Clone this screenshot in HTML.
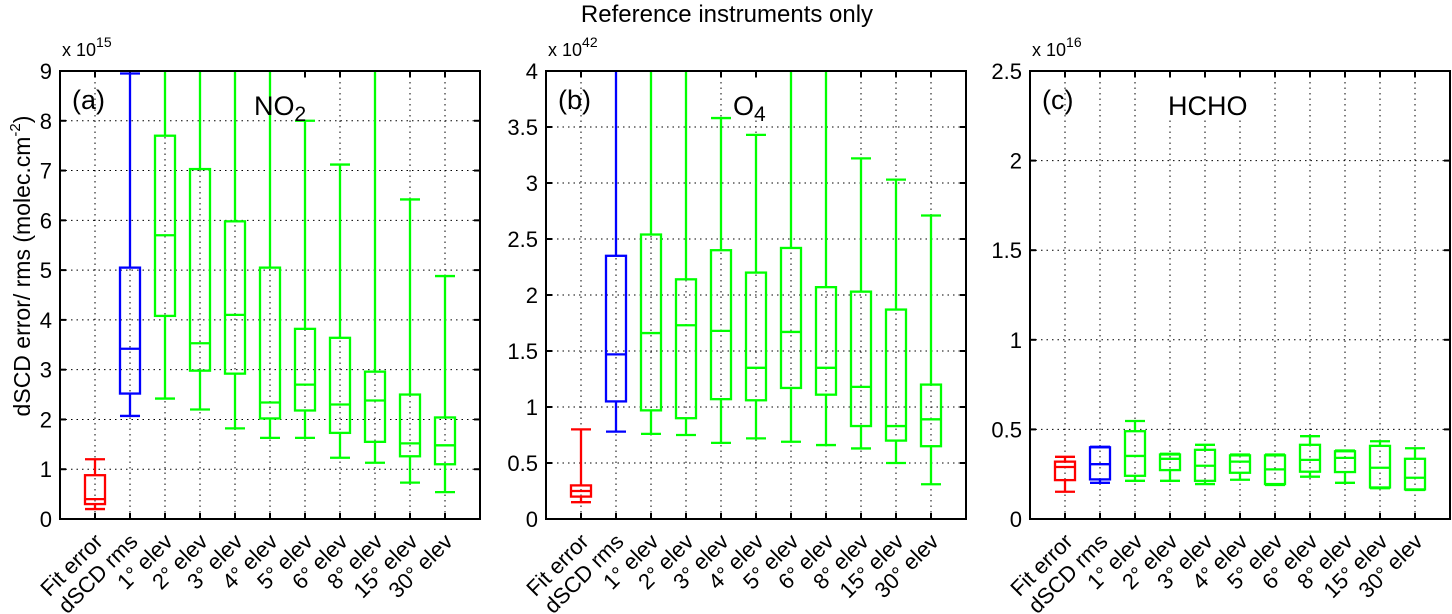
<!DOCTYPE html>
<html><head><meta charset="utf-8"><style>
body{margin:0;background:#fff;}
svg{display:block;font-family:"Liberation Sans",Arial,sans-serif;}
</style></head><body>
<svg id="fig" width="1452" height="614" viewBox="0 0 1452 614">
<text x="727" y="22" font-size="24" text-anchor="middle">Reference instruments only</text>
<text transform="translate(30,266) rotate(-90)" font-size="23" text-anchor="middle">dSCD error/ rms (molec.cm<tspan dy="-10" font-size="15">-2</tspan><tspan dy="10">)</tspan></text>
</svg>
<script>
const categories=["Fit error","dSCD rms","1° elev","2° elev","3° elev","4° elev","5° elev","6° elev","8° elev","15° elev","30° elev"];
const colors=["#ff0000","#0000ff","#00ff00","#00ff00","#00ff00","#00ff00","#00ff00","#00ff00","#00ff00","#00ff00","#00ff00"];
// [low whisker, q1, median, q3, high whisker]
const no2Stats=[[0.2,0.3,0.4,0.88,1.2],[2.07,2.52,3.42,5.05,8.95],[2.42,4.08,5.7,7.7,12],[2.2,2.98,3.53,7.03,12],[1.82,2.92,4.1,5.98,12],[1.63,2.02,2.34,5.05,12],[1.63,2.18,2.7,3.82,8.0],[1.23,1.73,2.3,3.64,7.12],[1.13,1.55,2.38,2.96,12],[0.73,1.26,1.52,2.5,6.42],[0.54,1.1,1.48,2.04,4.88]];
const o4Stats=[[0.15,0.2,0.25,0.3,0.8],[0.78,1.05,1.47,2.35,5],[0.76,0.97,1.66,2.54,5],[0.75,0.9,1.73,2.14,5],[0.68,1.07,1.68,2.4,3.58],[0.72,1.06,1.35,2.2,3.43],[0.69,1.17,1.67,2.42,5],[0.66,1.11,1.35,2.07,5],[0.63,0.83,1.18,2.03,3.22],[0.5,0.7,0.83,1.87,3.03],[0.31,0.65,0.89,1.2,2.71]];
const hchoStats=[[0.152,0.217,0.29,0.32,0.347],[0.202,0.221,0.306,0.40,0.403],[0.213,0.241,0.352,0.49,0.547],[0.213,0.273,0.336,0.36,0.364],[0.195,0.213,0.297,0.386,0.414],[0.219,0.258,0.32,0.355,0.36],[0.19,0.195,0.277,0.355,0.36],[0.236,0.264,0.33,0.414,0.462],[0.202,0.262,0.341,0.378,0.382],[0.172,0.176,0.286,0.408,0.434],[0.162,0.165,0.23,0.336,0.395]];
const no2Ticks=["0","1","2","3","4","5","6","7","8","9"];
const o4Ticks=["0","0.5","1","1.5","2","2.5","3","3.5","4"];
const hchoTicks=["0","0.5","1","1.5","2","2.5"];

const NS="http://www.w3.org/2000/svg";
const svg=document.getElementById('fig');
function mk(tag,attrs,parent){const e=document.createElementNS(NS,tag);for(const k in attrs)e.setAttribute(k,attrs[k]);(parent||svg).appendChild(e);return e;}
const TOP=71,BOT=519;
function panel(key,left,stats,ticks,ymax,exp,letter,species,sub,spx){
  const right=left+420;
  const g=mk('g',{});
  
  
  const x=i=>left+35*(i+1);
  const y=v=>BOT-(v/ymax)*(BOT-TOP);
  const clip=mk('clipPath',{id:'c'+key},g);
  mk('rect',{x:left,y:TOP,width:420,height:BOT-TOP},clip);
  ticks.forEach(t=>{const v=parseFloat(t),yy=y(v);
    if(v>0&&v<ymax){const l=mk('line',{x1:left,x2:right,y1:yy,y2:yy,stroke:'#000','stroke-width':1,'stroke-dasharray':'1.5,4'},g);
      }
    mk('line',{x1:left,x2:left+6,y1:yy,y2:yy,stroke:'#000','stroke-width':2},g);
    mk('line',{x1:right,x2:right-6,y1:yy,y2:yy,stroke:'#000','stroke-width':2},g);
    const tx=mk('text',{x:left-8,y:yy+8,'font-size':22,'text-anchor':'end'},g);tx.textContent=t;
    
  });
  categories.forEach((c,i)=>{const xx=x(i);
    mk('line',{x1:xx,x2:xx,y1:TOP,y2:BOT,stroke:'#000','stroke-width':1,'stroke-dasharray':'1.5,4'},g);
    mk('line',{x1:xx,x2:xx,y1:BOT,y2:BOT-6,stroke:'#000','stroke-width':2},g);
    mk('line',{x1:xx,x2:xx,y1:TOP,y2:TOP+6,stroke:'#000','stroke-width':2},g);
    const tx=mk('text',{x:0,y:0,'font-size':22,'text-anchor':'end',transform:`translate(${xx+9},${BOT+24}) rotate(-45)`},g);tx.textContent=c;
    
  });
  const lab=mk('text',{x:left+12,y:TOP+38,'font-size':27},g);lab.textContent=letter;
  
  mk('rect',{x:spx-4,y:TOP+8,width:sub?62:100,height:40,fill:'#fff'},g);
  stats.forEach((s,i)=>{const xx=x(i),col=colors[i];
    const bx=mk('g',{'clip-path':`url(#c${key})`,stroke:col,'stroke-width':2.3,fill:'none'},g);
    
    
    mk('line',{x1:xx,x2:xx,y1:y(s[0]),y2:y(s[1])},bx);
    mk('line',{x1:xx,x2:xx,y1:y(s[3]),y2:y(s[4])},bx);
    mk('line',{x1:xx-10,x2:xx+10,y1:y(s[0]),y2:y(s[0])},bx);
    mk('line',{x1:xx-10,x2:xx+10,y1:y(s[4]),y2:y(s[4])},bx);
    mk('rect',{x:xx-10,y:y(s[3]),width:20,height:y(s[1])-y(s[3])},bx);
    mk('line',{x1:xx-10,x2:xx+10,y1:y(s[2]),y2:y(s[2])},bx);
  });
  const sp=mk('text',{x:spx,y:TOP+44,'font-size':27},g);sp.textContent=species;
  if(sub){const t=mk('tspan',{dy:6,'font-size':21},sp);t.textContent=sub;}
  
  const ax=mk('rect',{x:left,y:TOP,width:420,height:BOT-TOP,fill:'none',stroke:'#000','stroke-width':2},g);
  
  const ex=mk('text',{x:left+2,y:TOP-15,'font-size':18},g);ex.textContent='x 10';
  const es=mk('tspan',{dy:-9,'font-size':14},ex);es.textContent=exp;
  
}
panel('no2',60,no2Stats,no2Ticks,9,'15','(a)','NO','2',254);
panel('o4',546,o4Stats,o4Ticks,4,'42','(b)','O','4',733);
panel('hcho',1030,hchoStats,hchoTicks,2.5,'16','(c)','HCHO','',1168);
</script>
</body></html>
